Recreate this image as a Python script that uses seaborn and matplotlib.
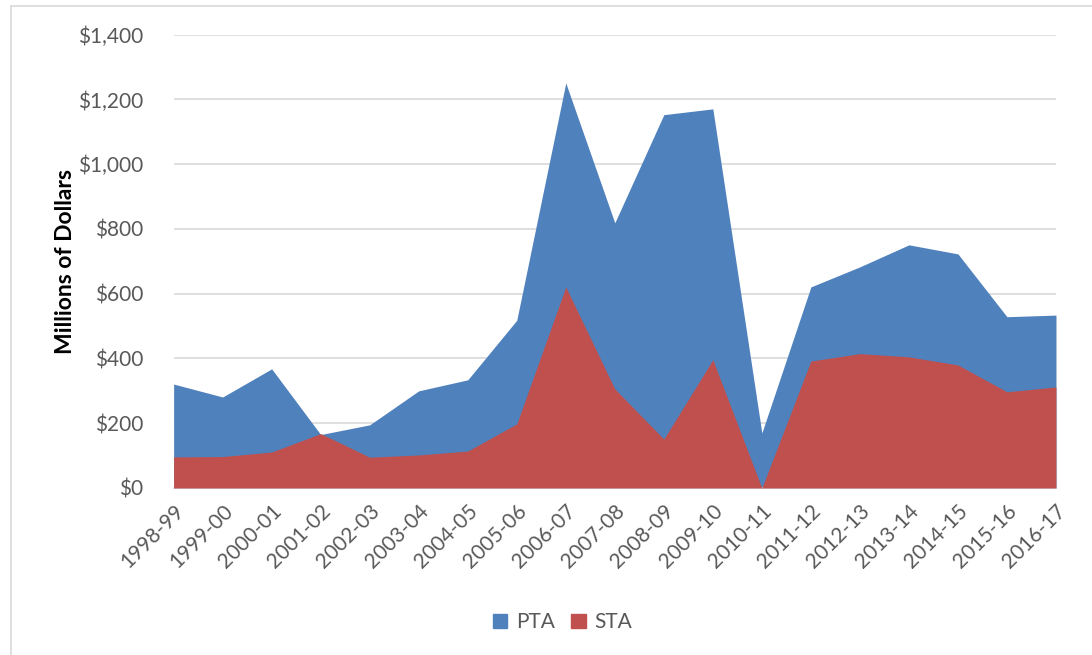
import matplotlib
matplotlib.use("Agg")
import matplotlib.pyplot as plt
from matplotlib.lines import Line2D
from matplotlib.patches import Patch
from matplotlib.ticker import FuncFormatter
import seaborn as sns
import numpy as np

# Fiscal years and values (millions of dollars)
years = ["1998-99", "1999-00", "2000-01", "2001-02", "2002-03", "2003-04",
         "2004-05", "2005-06", "2006-07", "2007-08", "2008-09", "2009-10",
         "2010-11", "2011-12", "2012-13", "2013-14", "2014-15", "2015-16",
         "2016-17"]
pta = [321, 281, 368, 165, 195, 300, 334, 518, 1251, 819, 1153, 1171,
       170, 621, 683, 751, 723, 529, 534]
sta = [96, 97, 111, 168, 95, 102, 114, 198, 621, 306, 151, 396,
       0, 392, 415, 405, 380, 297, 312]

blue = "#4F81BD"
red = "#C0504D"
grey_txt = "#595959"

sns.set_theme(style="white")
plt.rcParams["font.family"] = ["Lato", "DejaVu Sans"]

fig = plt.figure(figsize=(10.92, 6.55), dpi=100)
ax = fig.add_axes([0.159, 0.255, 0.808, 0.692])

x = np.arange(len(years))
ax.fill_between(x, 0, pta, color=blue, linewidth=0, zorder=2)
ax.fill_between(x, 0, sta, color=red, linewidth=0, zorder=3)

ax.set_xlim(0, len(years) - 1)
ax.set_ylim(0, 1400)
ax.set_yticks(range(0, 1401, 200))
ax.yaxis.set_major_formatter(FuncFormatter(lambda v, p: f"${v:,.0f}"))
ax.set_xticks(x)
ax.set_xticklabels(years, rotation=45, ha="right", rotation_mode="anchor")
ax.tick_params(axis="both", length=0, labelsize=15, labelcolor=grey_txt)
ax.tick_params(axis="x", pad=9)
ax.tick_params(axis="y", pad=22)

ax.grid(axis="y", color="#D9D9D9", linewidth=1.2, zorder=0)
ax.set_axisbelow(True)
for s in ["top", "right", "left"]:
    ax.spines[s].set_visible(False)
ax.spines["bottom"].set_color("#D9D9D9")
ax.spines["bottom"].set_linewidth(1.2)

ax.set_ylabel("Millions of Dollars", fontsize=16.5, fontweight="bold",
              color="black", labelpad=1)

handles = [Patch(color=blue, label="PTA"), Patch(color=red, label="STA")]
fig.legend(handles=handles, loc="center", bbox_to_anchor=(0.515, 0.05),
           ncol=2, frameon=False, fontsize=15, handlelength=0.7,
           handleheight=0.7, handletextpad=0.4, columnspacing=0.8,
           labelcolor=grey_txt)

# outer chart border
fig.add_artist(Line2D([11 / 1092, 11 / 1092], [0, 1 - 6 / 655],
                      transform=fig.transFigure, color="#D9D9D9", linewidth=1.2))
fig.add_artist(Line2D([11 / 1092, 1], [1 - 6 / 655, 1 - 6 / 655],
                      transform=fig.transFigure, color="#D9D9D9", linewidth=1.2))

fig.savefig("out.png", dpi=100)
plt.close(fig)
